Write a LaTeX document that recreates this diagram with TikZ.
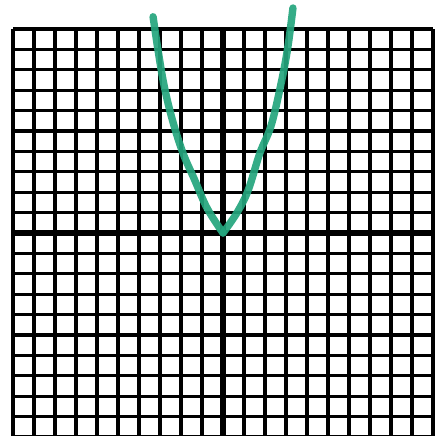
\documentclass[tikz,border=0pt]{standalone}
\usepackage{xcolor}
\usetikzlibrary{calc}
\definecolor{markergreen}{HTML}{24A57D}
\tikzset{
 sq grid/.style={line width=.95pt,draw=black,step={(1,1)}},
 sq axis/.style={line width=1.5pt,draw=black},
 marker pen/.style={draw=markergreen,line width=2.1pt,line cap=round,line join=round,opacity=.92}
}
\begin{document}
\begin{tikzpicture}[x=2.1mm,y=2.04mm]
\useasboundingbox (-10.62,-9.95) rectangle (10.38,11.42);
\clip (-10.62,-9.95) rectangle (10.38,11.42);
% graph paper
\draw[sq grid] (-10,-10.5) grid (10,10);
\draw[sq axis] (-10,0)--(10,0);
\draw[sq axis] (0,-10.5)--(0,10);
\coordinate (vertex) at (0,0);
% hand drawn parabola
\draw[marker pen] plot[smooth,tension=.6] coordinates {
 (-3.33,10.6) (-3.1,9) (-2.8,7.2) (-2.4,5.5) (-1.9,3.9) (-1.35,2.6) (-0.75,1.2) (vertex)};
\draw[marker pen] plot[smooth,tension=.6] coordinates {
 (vertex) (0.67,1) (1.2,2.1) (1.75,3.9) (2.3,5.3) (2.8,7.5) (3.1,9.2) (3.33,11.03)};
\end{tikzpicture}
\end{document}
